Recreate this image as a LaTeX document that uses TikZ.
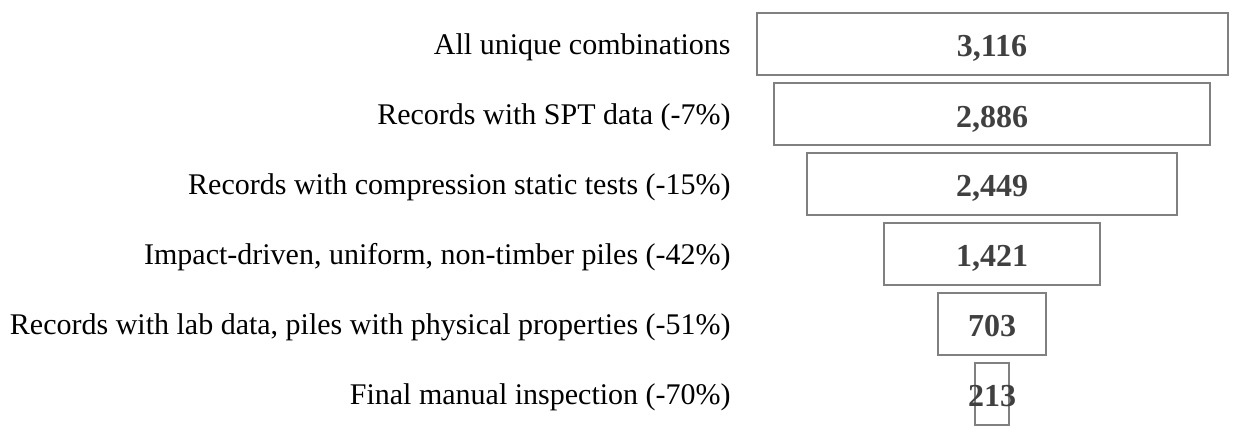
\documentclass[tikz,border=0pt]{standalone}
\usepackage{fontspec}
\setmainfont{Liberation Serif}
\usetikzlibrary{positioning}
\definecolor{barline}{HTML}{808080}
\definecolor{bartext}{HTML}{404040}
\tikzset{
  funnelbar/.style={draw=barline, line width=1pt, minimum height=31pt,
    inner sep=0pt, font=\fontsize{16}{19}\selectfont\bfseries, text=bartext,
    text height=13pt, text depth=0pt},
  stagelabel/.style={anchor=east, inner sep=0pt, font=\fontsize{15}{18}\selectfont,
    text height=10.5pt, text depth=0pt}
}
\newcommand{\barnum}[1]{\makebox[0pt]{#1}}

\begin{document}
\begin{tikzpicture}[x=0.5pt, y=-0.5pt]
  \useasboundingbox (0,0) rectangle (1236,446);
  % bars
  \node[funnelbar, minimum width=235.5pt] (all) at (992,43.5) {\barnum{3,116}};
  \node[funnelbar, minimum width=218pt] (spt) at (992,114) {\barnum{2,886}};
  \node[funnelbar, minimum width=185pt] (comp) at (992,183.5) {\barnum{2,449}};
  \node[funnelbar, minimum width=108pt] (impact) at (992,253.5) {\barnum{1,421}};
  \node[funnelbar, minimum width=54pt] (lab) at (992,323.5) {\barnum{703}};
  \node[funnelbar, minimum width=17pt] (final) at (992,393.5) {\barnum{213}};
  % labels
  \node[stagelabel] (allL) at (731,43.5) {All unique combinations};
  \node[stagelabel] (sptL) at (731,114) {Records with SPT data (-7\%)};
  \node[stagelabel] (compL) at (731,183.5) {Records with compression static tests (-15\%)};
  \node[stagelabel] (impactL) at (731,253.5) {Impact-driven, uniform, non-timber piles (-42\%)};
  \node[stagelabel] (labL) at (731,323.5) {Records with lab data, piles with physical properties (-51\%)};
  \node[stagelabel] (finalL) at (731,393.5) {Final manual inspection (-70\%)};
\end{tikzpicture}
\end{document}
